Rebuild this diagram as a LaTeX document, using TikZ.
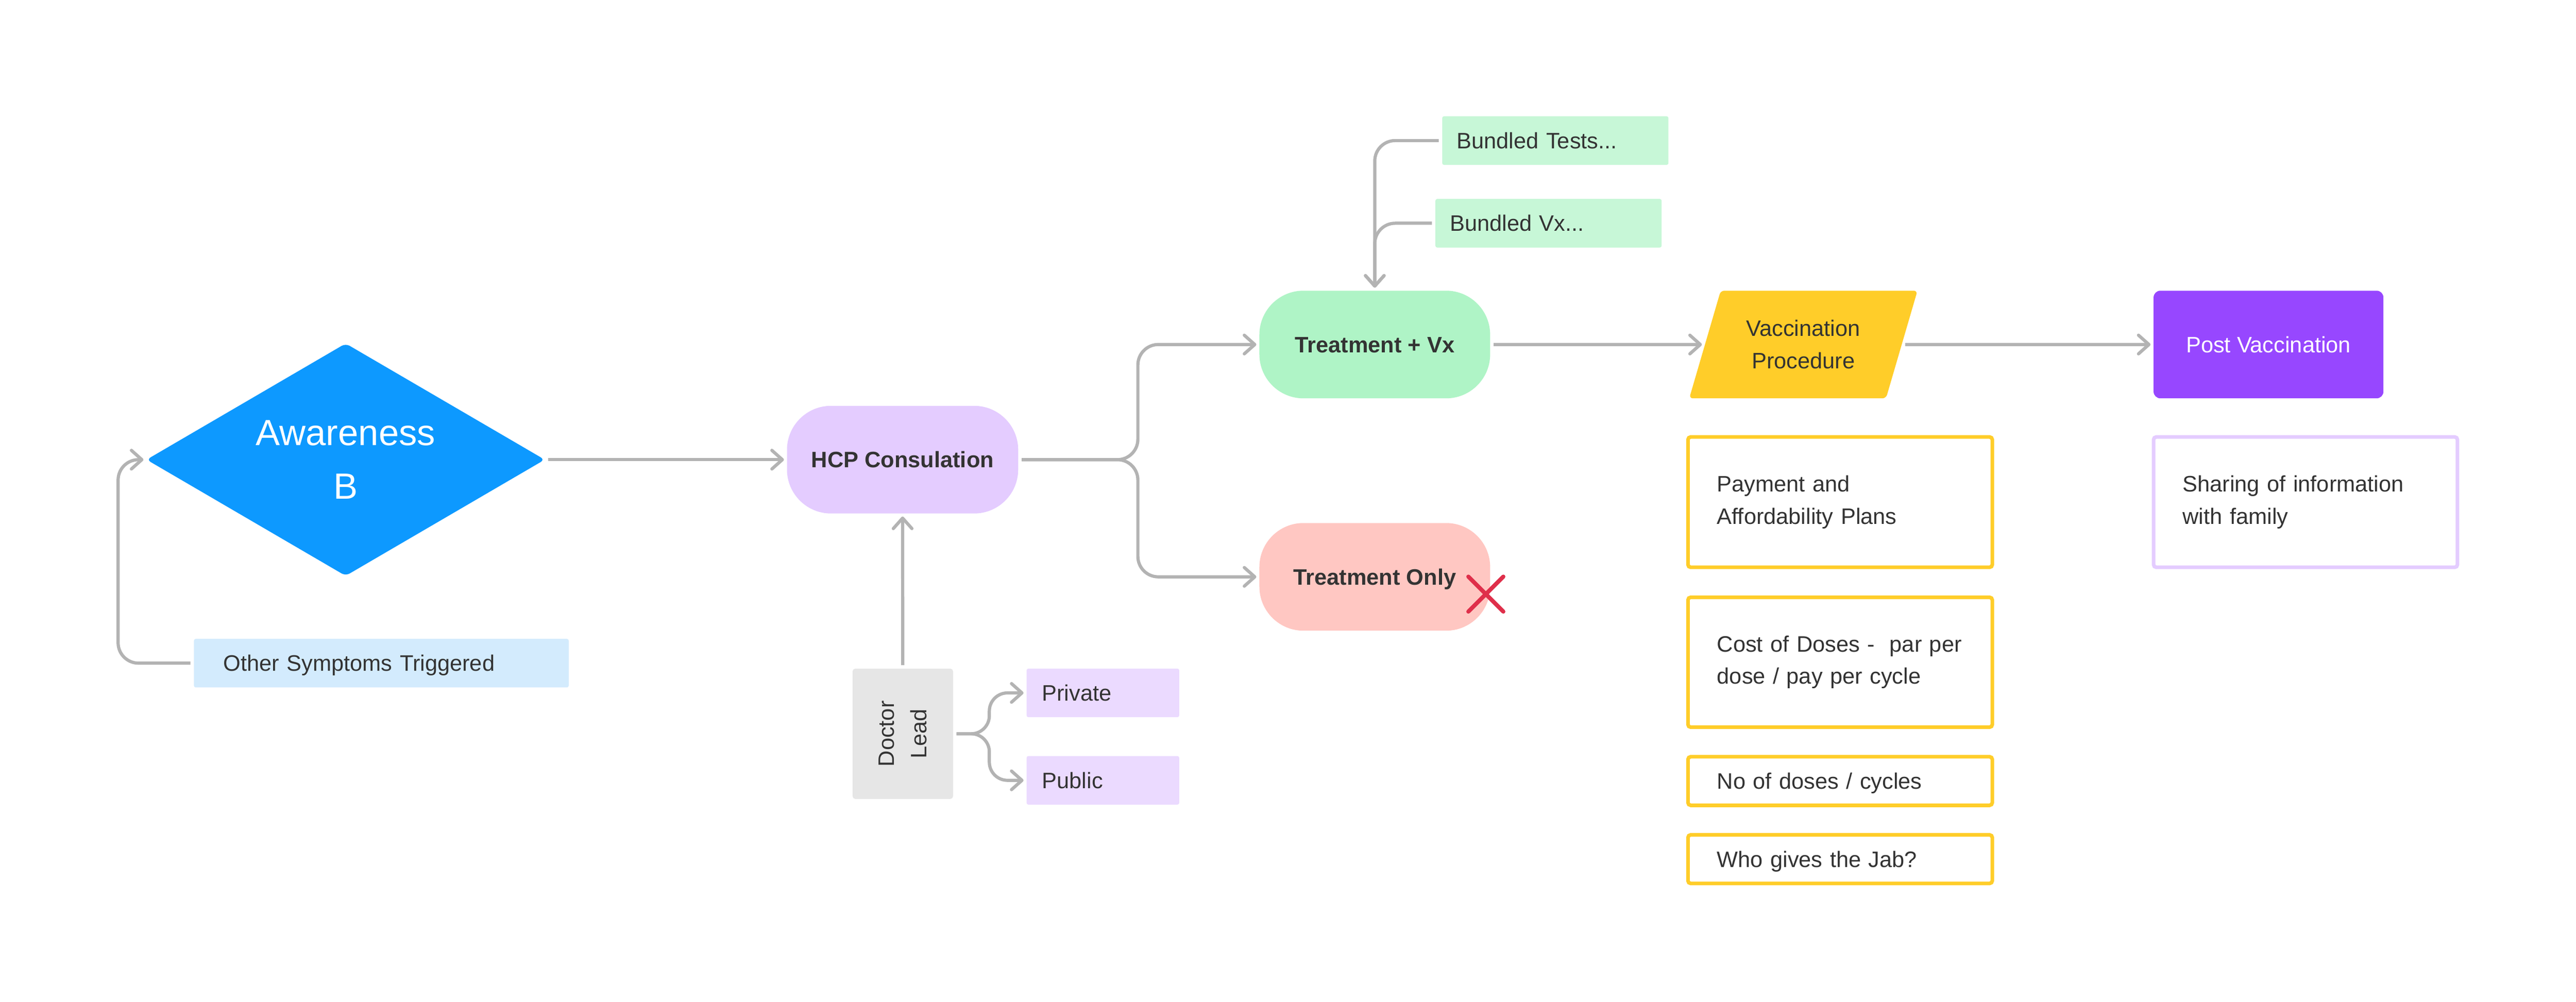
\documentclass[tikz,border=0pt]{standalone}
\usepackage{fontspec}
\setmainfont{Liberation Sans}
\usepackage{graphicx}
\usetikzlibrary{arrows.meta, shapes.geometric, shapes.misc}
\definecolor{ink}{HTML}{333333}
\definecolor{linegray}{HTML}{B3B3B3}
\definecolor{awblue}{HTML}{0D99FF}
\definecolor{symblue}{HTML}{D3EBFD}
\definecolor{hcp}{HTML}{E4CCFF}
\definecolor{lav}{HTML}{EBDAFF}
\definecolor{docgray}{HTML}{E6E6E6}
\definecolor{mint}{HTML}{AFF4C6}
\definecolor{bundle}{HTML}{C7F7D7}
\definecolor{pink}{HTML}{FFC7C2}
\definecolor{crossred}{HTML}{DF2F4A}
\definecolor{vacc}{HTML}{FFCD29}
\definecolor{post}{HTML}{9747FF}
\newcommand{\txt}{\fontsize{14}{20.2}\selectfont}

\begin{document}
\begin{tikzpicture}[
    >={Straight Barb[length=0.23cm, width=0.41cm, round]},
    flow/.style={draw=linegray, line width=2pt, shorten <=0.07cm, shorten >=0.06cm},
    pill/.style={rounded corners=0.97cm, minimum width=5.08cm, minimum height=2.37cm, inner sep=0pt,
        font=\txt\bfseries, text=ink, text height=0.35cm, text depth=0cm},
    note/.style={rounded corners=0.04cm, minimum height=1.07cm, inner ysep=0pt, align=left,
        font=\txt, text=ink, text height=0.35cm, text depth=0cm},
    frame/.style={draw=#1, line width=0.08cm, rounded corners=0.06cm, minimum width=6.70cm,
        inner xsep=0.64cm, text width=5.42cm, align=left, font=\txt, text=ink},
  ]
    \path[use as bounding box, fill=white] (0, 0) rectangle (56.71, -22.06);

    \node[diamond, shape aspect=1.7, minimum width=8.77cm, minimum height=5.12cm, inner sep=0pt,
        rounded corners=0.1cm, fill=awblue, text=white, align=center,
        font=\fontsize{22.8}{33.7}\selectfont] (A) at (7.61, -10.12){Awareness\\B};
    \node[note, fill=symblue, inner xsep=0.65cm, text width=6.95cm] (OST) at (8.395, -14.60){Other Symptoms Triggered};
    \coordinate (L) at (2.60, -14.60);

    \node[pill, fill=hcp, minimum width=5.09cm] (HCP) at (19.87, -10.12){HCP Consulation};
    \node[fill=docgray, rounded corners=0.06cm, minimum width=2.21cm, minimum height=2.87cm, inner sep=0pt,
        font=\txt, text=ink] (DL) at (19.875, -16.155){\rotatebox{90}{\parbox{2.2cm}{\centering Doctor\\Lead}}};
    \node[note, fill=lav, inner xsep=0.34cm, text width=2.68cm] (PRV) at (24.28, -15.255){Private};
    \node[note, fill=lav, inner xsep=0.34cm, text width=2.68cm] (PUB) at (24.28, -17.18){Public};
    \coordinate (J1) at (21.78, -16.155);
    \coordinate (J2) at (25.05, -10.12);

    \node[pill, fill=mint] (TV) at (30.265, -7.585){Treatment + Vx};
    \node[pill, fill=pink] (TO) at (30.265, -12.70){Treatment Only};
    \node[cross out, draw=crossred, line width=0.09cm, line cap=round, minimum size=0.68cm, inner sep=0pt] (X) at (32.71, -13.08){};
    \node[note, fill=bundle, inner xsep=0.32cm, text width=4.34cm] (BT) at (34.24, -3.095){Bundled Tests...};
    \node[note, fill=bundle, inner xsep=0.32cm, text width=4.34cm] (BV) at (34.09, -4.915){Bundled Vx...};

    \node[trapezium, trapezium left angle=66, trapezium right angle=114, trapezium stretches=true,
        minimum width=5.05cm, minimum height=2.37cm, inner sep=0pt, rounded corners=0.08cm,
        fill=vacc, font=\txt, text=ink, align=center] (VP) at (39.70, -7.585){Vaccination\\Procedure};
    \node[fill=post, rounded corners=0.15cm, minimum width=5.06cm, minimum height=2.37cm, inner sep=0pt,
        font=\txt, text=white] (PV) at (49.94, -7.585){Post Vaccination};

    \node[frame=vacc, minimum height=2.87cm] (PAY) at (40.51, -11.055){Payment and\\Affordability Plans};
    \node[frame=vacc, minimum height=2.86cm] (COST) at (40.51, -14.58){Cost of Doses -\ \ par per\\dose / pay per cycle};
    \node[frame=vacc, minimum height=1.07cm, text height=0.35cm, text depth=0cm] (NOD) at (40.51, -17.195){No of doses / cycles};
    \node[frame=vacc, minimum height=1.07cm, text height=0.35cm, text depth=0cm] (WHO) at (40.51, -18.915){Who gives the Jab?};
    \node[frame=hcp, minimum width=6.67cm, text width=5.41cm, minimum height=2.87cm] (SHR) at (50.755, -11.055){Sharing of information\\with family};

    \draw[flow, ->, rounded corners=0.45cm] (OST.west)--(L)|-(A.west);
    \draw[flow, ->] (A.east)--(HCP.west);
    \draw[flow, ->] (DL.north)--(HCP.south);
    \draw[flow, ->, rounded corners=0.4cm] (DL.east)--(J1)|-(PRV.west);
    \draw[flow, ->, rounded corners=0.4cm] (DL.east)--(J1)|-(PUB.west);
    \draw[flow, ->, rounded corners=0.45cm] (HCP.east)--(J2)|-(TV.west);
    \draw[flow, ->, rounded corners=0.45cm] (HCP.east)--(J2)|-(TO.west);
    \draw[flow, ->, rounded corners=0.45cm] (BT.west)-|(TV.north);
    \draw[flow, ->, rounded corners=0.45cm] (BV.west)-|(TV.north);
    \draw[flow, ->] (TV.east)--(VP.west);
    \draw[flow, ->] (VP.east)--(PV.west);
  \end{tikzpicture}
\end{document}
